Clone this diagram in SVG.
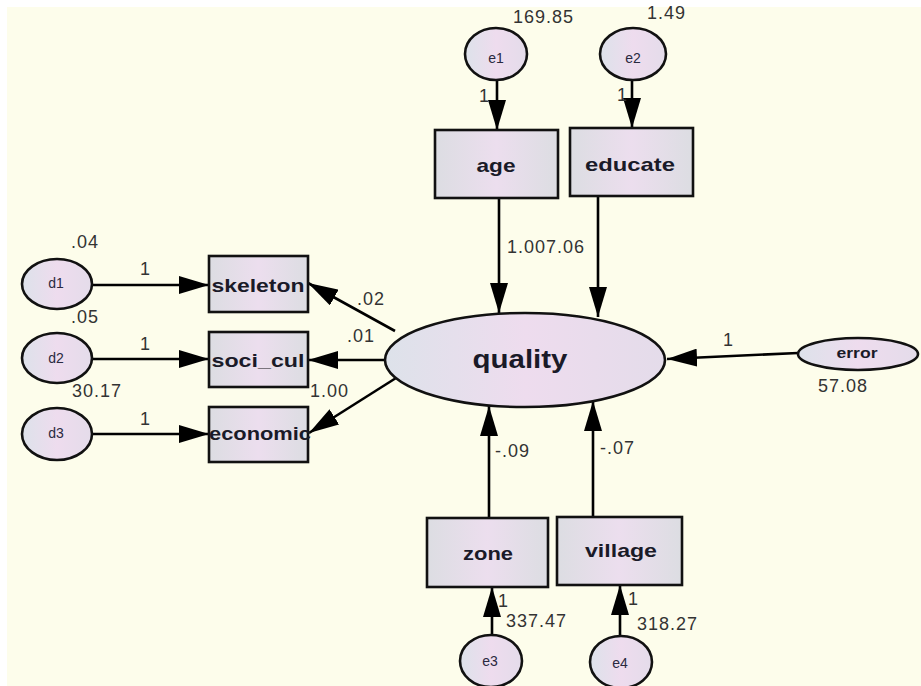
<svg xmlns="http://www.w3.org/2000/svg" width="921" height="686" viewBox="0 0 921 686">
<defs>
<linearGradient id="gBox" x1="0" y1="0" x2="1" y2="0">
<stop offset="0" stop-color="#dcdde2"/>
<stop offset="0.5" stop-color="#ecdeee"/>
<stop offset="1" stop-color="#dcdde2"/>
</linearGradient>
<linearGradient id="gEll" x1="0" y1="0" x2="1" y2="0">
<stop offset="0" stop-color="#dde2ea"/>
<stop offset="0.5" stop-color="#eedcee"/>
<stop offset="1" stop-color="#e4dcea"/>
</linearGradient>
<marker id="arr" viewBox="0 0 30 18" refX="30" refY="9" markerWidth="30" markerHeight="18" markerUnits="userSpaceOnUse" orient="auto">
<path d="M0,0 L30,9 L0,18 z" fill="#000"/>
</marker>
<style>
.box{fill:url(#gBox);stroke:#111;stroke-width:2.6}
.ell{fill:url(#gEll);stroke:#111;stroke-width:2.6}
.lbl{font-family:"Liberation Sans",Arial,sans-serif;font-weight:bold;font-size:19px;fill:#1a1a28;text-anchor:middle}
.sm{font-family:"Liberation Sans",Arial,sans-serif;font-size:14px;fill:#2a2a40;text-anchor:middle}
.num{font-family:"Liberation Sans",Arial,sans-serif;font-size:18px;fill:#333;letter-spacing:1px}
.con line{stroke:#000;stroke-width:2.6;marker-end:url(#arr)}
</style>
</defs>
<rect x="0" y="0" width="921" height="686" fill="#ffffff"/>
<rect x="7" y="7" width="914" height="679" fill="#fdfdeb"/>

<g id="connectors" class="con">
<line x1="497" y1="80" x2="497" y2="130"/>
<line x1="632" y1="80" x2="632" y2="128"/>
<line x1="499" y1="198" x2="499" y2="313"/>
<line x1="598" y1="196" x2="598" y2="317"/>
<line x1="798" y1="353" x2="667" y2="359"/>
<line x1="395" y1="331" x2="308" y2="283"/>
<line x1="386" y1="360" x2="308" y2="360"/>
<line x1="396" y1="378" x2="309" y2="433"/>
<line x1="92" y1="285" x2="209" y2="285"/>
<line x1="92" y1="359" x2="209" y2="359"/>
<line x1="92" y1="434" x2="209" y2="434"/>
<line x1="489" y1="518" x2="489" y2="406"/>
<line x1="593" y1="517" x2="593" y2="401"/>
<line x1="492" y1="635" x2="492" y2="587"/>
<line x1="620" y1="636" x2="620" y2="585"/>
</g>

<g id="e1"><ellipse class="ell" cx="496" cy="54" rx="31" ry="26"/><text class="sm" x="496" y="63">e1</text></g>
<g id="e2"><ellipse class="ell" cx="633" cy="54" rx="33" ry="26"/><text class="sm" x="633" y="63">e2</text></g>
<g id="age"><rect class="box" x="435" y="130" width="123" height="68"/><text class="lbl" x="496" y="172" textLength="39" lengthAdjust="spacingAndGlyphs">age</text></g>
<g id="educate"><rect class="box" x="570" y="128" width="123" height="68"/><text class="lbl" x="630" y="171" textLength="90" lengthAdjust="spacingAndGlyphs">educate</text></g>
<g id="quality"><ellipse class="ell" cx="525" cy="360" rx="140" ry="47"/><text class="lbl" x="520" y="368" style="font-size:25px" textLength="95" lengthAdjust="spacingAndGlyphs">quality</text></g>
<g id="error"><ellipse class="ell" cx="858" cy="354" rx="60" ry="16"/><text class="lbl" x="857" y="358" style="font-size:15px" textLength="41" lengthAdjust="spacingAndGlyphs">error</text></g>
<g id="d1"><ellipse class="ell" cx="57" cy="284" rx="35" ry="25"/><text class="sm" x="56" y="288">d1</text></g>
<g id="d2"><ellipse class="ell" cx="57" cy="358" rx="35" ry="25"/><text class="sm" x="56" y="363">d2</text></g>
<g id="d3"><ellipse class="ell" cx="57" cy="434" rx="35" ry="26"/><text class="sm" x="56" y="438">d3</text></g>
<g id="skeleton"><rect class="box" x="209" y="256" width="99" height="56"/><text class="lbl" x="258" y="292" textLength="93" lengthAdjust="spacingAndGlyphs">skeleton</text></g>
<g id="soci_cul"><rect class="box" x="209" y="332" width="99" height="55"/><text class="lbl" x="258" y="367" textLength="93" lengthAdjust="spacingAndGlyphs">soci_cul</text></g>
<g id="economic"><rect class="box" x="209" y="407" width="99" height="55"/><text class="lbl" x="260" y="440" textLength="102" lengthAdjust="spacingAndGlyphs">economic</text></g>
<g id="zone"><rect class="box" x="427" y="518" width="121" height="69"/><text class="lbl" x="488" y="560" textLength="50" lengthAdjust="spacingAndGlyphs">zone</text></g>
<g id="village"><rect class="box" x="557" y="517" width="125" height="68"/><text class="lbl" x="621" y="557" textLength="72" lengthAdjust="spacingAndGlyphs">village</text></g>
<g id="e3"><ellipse class="ell" cx="491" cy="661" rx="31" ry="26"/><text class="sm" x="490" y="666">e3</text></g>
<g id="e4"><ellipse class="ell" cx="621" cy="662" rx="31" ry="26"/><text class="sm" x="620" y="668">e4</text></g>

<g id="labels">
<text class="num" x="513" y="23">169.85</text>
<text class="num" x="647" y="19">1.49</text>
<text class="num" x="479" y="102">1</text>
<text class="num" x="617" y="101">1</text>
<text class="num" x="507" y="253">1.007.06</text>
<text class="num" x="357" y="305">.02</text>
<text class="num" x="347" y="342">.01</text>
<text class="num" x="310" y="397">1.00</text>
<text class="num" x="723" y="346">1</text>
<text class="num" x="818" y="392">57.08</text>
<text class="num" x="71" y="248">.04</text>
<text class="num" x="71" y="323">.05</text>
<text class="num" x="72" y="397">30.17</text>
<text class="num" x="140" y="275">1</text>
<text class="num" x="140" y="350">1</text>
<text class="num" x="140" y="425">1</text>
<text class="num" x="495" y="457">-.09</text>
<text class="num" x="600" y="454">-.07</text>
<text class="num" x="498" y="607">1</text>
<text class="num" x="506" y="627">337.47</text>
<text class="num" x="628" y="605">1</text>
<text class="num" x="637" y="630">318.27</text>
</g>
</svg>
